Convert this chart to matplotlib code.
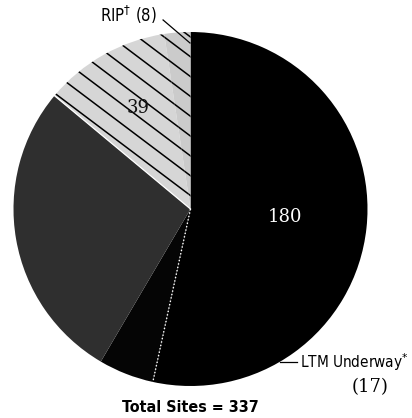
import numpy as np
import matplotlib.pyplot as plt

labels = ['Remedy Complete', 'LTM Underway', 'Other', 'Remedy Construction', 'RIP']
counts = [180, 17, 93, 39, 8]
colors = ['#000000', '#050505', '#2f2f2f', '#d6d6d6', '#cbcbcb']
striped = [False, False, False, True, True]
total = sum(counts)

narrow = ['DejaVu Sans']

fig = plt.figure(figsize=(4.12, 4.18), dpi=100)
cx, cy, r = 190.5, 209, 177
ax = fig.add_axes([(cx - r) / 412, (418 - cy - r) / 418, 2 * r / 412, 2 * r / 418])

wedges, _ = ax.pie(counts, colors=colors, startangle=90, counterclock=False,
                   radius=1, wedgeprops=dict(linewidth=0))
ax.set_xlim(-1, 1)
ax.set_ylim(-1, 1)
ax.axis('off')

# diagonal stripes on the light slices
slope = np.tan(np.deg2rad(37))
xs = np.array([-1.2, 1.2])
for w, s in zip(wedges, striped):
    if not s:
        continue
    for c in np.arange(-2.5, 2.5, 0.112):
        ln, = ax.plot(xs, -slope * xs + c, color='black', lw=1.1)
        ln.set_clip_path(w)

# boundary lines
a = np.deg2rad(wedges[0].theta1)
ax.plot([0, np.cos(a)], [0, np.sin(a)], color='white', ls=(0, (1, 1.5)), lw=1)
a = np.deg2rad(wedges[2].theta1)
ax.plot([0, np.cos(a)], [0, np.sin(a)], color='white', lw=0.9)

# value labels
ax.text(0.534, -0.045, str(counts[0]), color='white', ha='center', va='center',
        family='DejaVu Serif', fontsize=13)
ax.text(-0.297, 0.571, str(counts[3]), color='#111111', ha='center', va='center',
        family='DejaVu Serif', fontsize=13)

ax.text(-0.189, 1.096, 'RIP$^{\\dagger}$ (%d)' % counts[4], ha='right', va='center',
        family=narrow, fontsize=12, fontstretch='condensed', clip_on=False)
ax.plot([-0.155, -0.003], [1.068, 0.938], color='black', lw=0.9, clip_on=False)

ax.plot([0.506, 0.602], [-0.864, -0.864], color='black', lw=0.9, clip_on=False)
ax.text(0.619, -0.864, 'LTM Underway$^{*}$', ha='left', va='center',
        family=narrow, fontsize=11, fontstretch='condensed', clip_on=False)
ax.text(1.014, -1.006, '(%d)' % counts[1], ha='center', va='center',
        family='DejaVu Serif', fontsize=13, clip_on=False)

ax.text(-0.003, -1.124, 'Total Sites = %d' % total, ha='center', va='center',
        family=narrow, fontsize=11.5, fontweight='bold', fontstretch='condensed',
        clip_on=False)

fig.savefig('out.png', dpi=100)
